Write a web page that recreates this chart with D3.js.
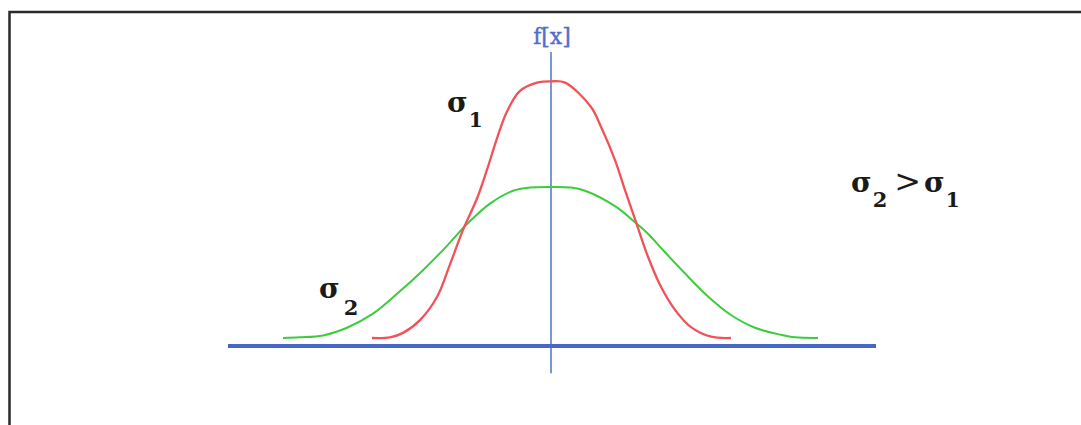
<!DOCTYPE html>
<html>
<head>
<meta charset="utf-8">
<script src="https://cdn.jsdelivr.net/npm/d3@7"></script>
<style>
  html, body { margin: 0; padding: 0; background: #fff; }
  svg { display: block; }
</style>
</head>
<body>
<script>
// Narrow distribution (sigma 1): x position and density
const sigma1X = [-3.58, -3.22, -2.96, -2.62, -2.28, -2.02, -1.76, -1.48, -1.28, -1.08, -0.88, -0.62, -0.28, 0, 0.28, 0.80, 1.00, 1.28, 1.48, 1.70, 1.94, 2.20, 2.48, 2.80, 3.20, 3.60];
const sigma1Y = [0.000, 0.001, 0.008, 0.028, 0.064, 0.115, 0.169, 0.218, 0.263, 0.312, 0.354, 0.386, 0.399, 0.401, 0.399, 0.361, 0.330, 0.278, 0.231, 0.181, 0.127, 0.080, 0.044, 0.017, 0.002, 0.000];

// Wide distribution (sigma 2): x position and density
const sigma2X = [-5.36, -5.02, -4.56, -4.08, -3.56, -3.08, -2.56, -2.08, -1.68, -1.22, -0.76, -0.42, 0, 0.40, 0.68, 1.28, 1.68, 1.94, 2.28, 2.74, 3.14, 3.60, 4.08, 4.60, 4.88, 5.34];
const sigma2Y = [0.000, 0.001, 0.004, 0.016, 0.038, 0.069, 0.106, 0.144, 0.178, 0.210, 0.230, 0.235, 0.236, 0.235, 0.230, 0.206, 0.181, 0.163, 0.134, 0.096, 0.065, 0.036, 0.016, 0.005, 0.001, 0.000];

// Axis extents in data units
const xAxisExtent = [-6.46, 6.5];
const xAxisLevel = -0.0125;
const yAxisExtent = [-0.055, 0.447];

const W = 1081, H = 425;

const svg = d3.select("body").append("svg")
  .attr("width", W).attr("height", H);

const x = d3.scaleLinear().domain([-6.5, 6.5]).range([226, 876]);
const y = d3.scaleLinear().domain([0, 0.4]).range([338, 82]);

// outer frame (runs off the right and bottom edges)
svg.append("rect")
  .attr("x", 9.5).attr("y", 12)
  .attr("width", 1200).attr("height", 600)
  .attr("fill", "none")
  .attr("stroke", "#2a2a2a")
  .attr("stroke-width", 2.5);

// vertical f(x) axis
svg.append("line")
  .attr("x1", x(0)).attr("x2", x(0))
  .attr("y1", y(yAxisExtent[1])).attr("y2", y(yAxisExtent[0]))
  .attr("stroke", "#5a7ad2")
  .attr("stroke-width", 1.6);

// horizontal axis
svg.append("line")
  .attr("x1", x(xAxisExtent[0])).attr("x2", x(xAxisExtent[1]))
  .attr("y1", y(xAxisLevel)).attr("y2", y(xAxisLevel))
  .attr("stroke", "#4767c8")
  .attr("stroke-width", 4);

const line = d3.line()
  .x(d => x(d[0]))
  .y(d => y(d[1]))
  .curve(d3.curveCatmullRom.alpha(0.5));

const wide = d3.zip(sigma2X, sigma2Y);
const narrow = d3.zip(sigma1X, sigma1Y);

svg.append("path")
  .datum(wide)
  .attr("d", line)
  .attr("fill", "none")
  .attr("stroke", "#3ccc3c")
  .attr("stroke-width", 2);

svg.append("path")
  .datum(narrow)
  .attr("d", line)
  .attr("fill", "none")
  .attr("stroke", "#f0525a")
  .attr("stroke-width", 2.3);

// axis title
svg.append("text")
  .attr("x", x(0) + 1).attr("y", 44)
  .attr("text-anchor", "middle")
  .attr("font-family", "'DejaVu Serif', serif")
  .attr("font-size", 22)
  .attr("stroke", "#4f6fcc")
  .attr("stroke-width", 0.4)
  .attr("fill", "#4f6fcc")
  .text("f[x]");

// sigma labels: each part may shift its baseline and add horizontal space
function sigmaLabel(px, py, parts) {
  const t = svg.append("text")
    .attr("x", px).attr("y", py)
    .attr("font-family", "'DejaVu Serif', serif")
    .attr("font-weight", "bold")
    .attr("fill", "#1a1a1a");
  parts.forEach(p => {
    const s = t.append("tspan").text(p.text)
      .attr("font-size", p.size || 28)
      .attr("font-weight", p.weight || "bold");
    if (p.dy) s.attr("dy", p.dy);
    if (p.dx) s.attr("dx", p.dx);
  });
}

sigmaLabel(447, 112, [{ text: "σ" }, { text: "1", size: 20, dy: 15, dx: 1 }]);
sigmaLabel(319, 298, [{ text: "σ" }, { text: "2", size: 21, dy: 17, dx: 4 }]);
sigmaLabel(851, 192, [
  { text: "σ" }, { text: "2", size: 21, dy: 15, dx: 1 },
  { text: ">", size: 32, weight: "normal", dy: -15, dx: 7 },
  { text: "σ", dx: 3 }, { text: "1", size: 20, dy: 15, dx: 1 }
]);
</script>
</body>
</html>
